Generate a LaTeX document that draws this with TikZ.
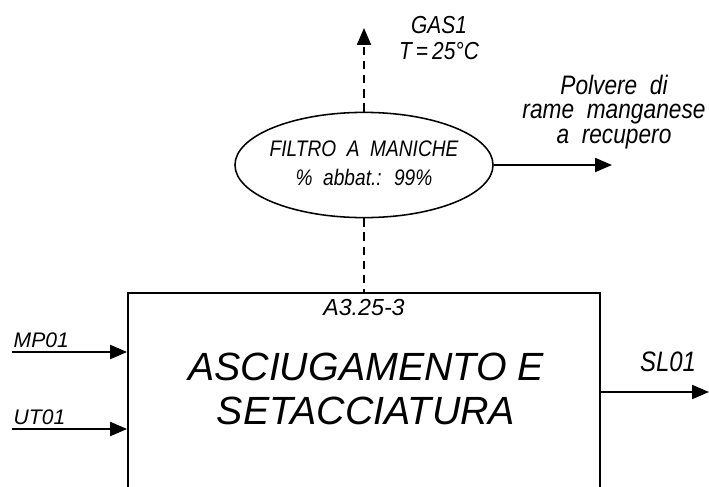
\documentclass[tikz,border=0pt]{standalone}
\usepackage{fontspec}
\setmainfont{Liberation Sans}
\newfontfamily\cadfont[FakeStretch=0.85, WordSpace=2]{Liberation Sans}
\usepackage{tikz}
\usetikzlibrary{arrows.meta, shapes.geometric}

\begin{document}
\begin{tikzpicture}[x=0.025cm, y=-0.025cm,
  flow/.style={-{Triangle[length=12pt,width=10pt]}, line width=1.1pt},
  gasline/.style={dash pattern=on 6pt off 4pt},
  lbl/.style={font=\itshape\fontsize{15}{17}\selectfont, align=center, inner sep=1pt},
  cad/.style={font=\cadfont\itshape\fontsize{16}{17}\selectfont, align=center, inner sep=1pt},
  big/.style={font=\itshape\fontsize{28}{31}\selectfont, align=center}]
\useasboundingbox (0,0) rectangle (709,486);
\clip (0,0) rectangle (709,486);
% Process block, cut off at the bottom of the sheet
\node[draw, line width=1.2pt, inner sep=0pt, minimum width=11.8cm, minimum height=7cm] (proc) at (364,433) {};
\node[font=\itshape\fontsize{16.5}{18}\selectfont, inner sep=0pt] (code) at (364,308) {A3.25-3};
\node[big] (name) at (366,389) {ASCIUGAMENTO E\\SETACCIATURA};
% Bag filter
\node[draw, ellipse, line width=1.1pt, minimum width=6.45cm, minimum height=2.63cm] (filt) at (364,165) {};
\node[cad, font=\cadfont\itshape\fontsize{16}{20.5}\selectfont] (filttxt) at (364,163) {FILTRO A MANICHE\\\% abbat.: 99\%};
% Outlets of the filter
\coordinate (gasend) at (364,28);
\coordinate (dustend) at (612,165);
\draw[flow, gasline] (filt.north) -- (gasend);
\draw[line width=1.1pt, gasline] (filt.south) -- (proc.north);
\draw[flow] (filt.east) -- (dustend);
\node[cad, font=\cadfont\itshape\fontsize{17.5}{18}\selectfont] (gas) at (439,38) {GAS1\\T\,=\,25°C};
\node[cad, font=\cadfont\itshape\fontsize{19}{17.5}\selectfont] (dust) at (614,112) {Polvere di\\rame manganese\\a recupero};
% Inputs and output of the block
\node[lbl, anchor=south west] (mp) at (12,349) {MP01};
\node[lbl, anchor=south west] (ut) at (12,426) {UT01};
\draw[flow] (mp.south west) ++(0,3) coordinate (mpin) -- (mpin -| proc.west);
\draw[flow] (ut.south west) ++(0,3) coordinate (utin) -- (utin -| proc.west);
\coordinate (slend) at (709,392);
\draw[flow] (slend -| proc.east) -- (slend);
\node[cad, font=\cadfont\itshape\fontsize{20}{20}\selectfont] (sl) at (668,362) {SL01};
\end{tikzpicture}
\end{document}
